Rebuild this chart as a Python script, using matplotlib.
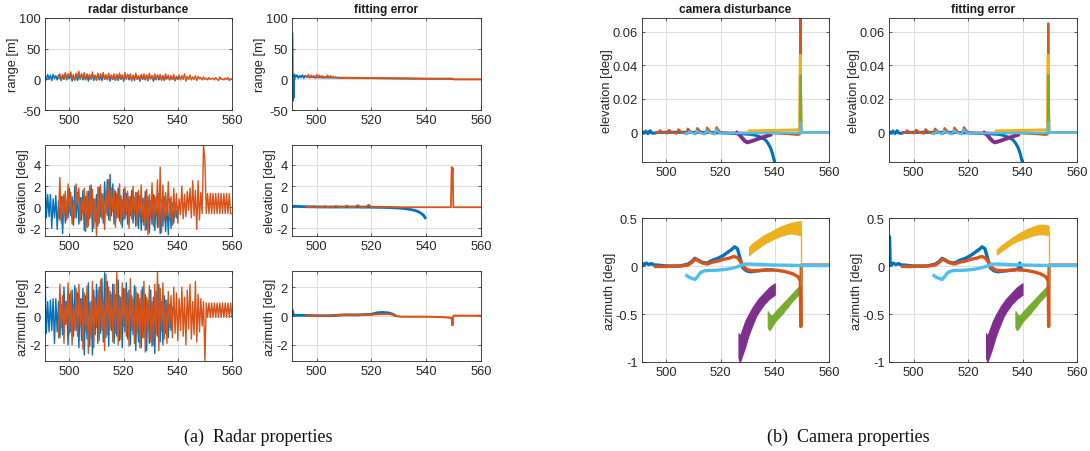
import numpy as np
import matplotlib
matplotlib.use("Agg")
import matplotlib.pyplot as plt

plt.rcParams["font.family"] = ["Liberation Sans", "DejaVu Sans"]
plt.rcParams["axes.unicode_minus"] = False

# MATLAB default line colours
C_BLUE = "#0072BD"
C_ORANGE = "#D95319"
C_YELLOW = "#EDB120"
C_PURPLE = "#7E2F8E"
C_GREEN = "#77AC30"
C_LBLUE = "#4DBEEE"

# ---------------------------------------------------------------- radar data
# sampled every 0.5 s, blue track starts at 491 s, orange track at 496 s
RADAR_STEP = 0.5
RADAR_T0_BLUE = 491.0
RADAR_T0_ORANGE = 496.0

range_dist_blue = [6, -1, 8, 0, 7, -2, 8, 1, 6, -1, 7,
                   2, -2, 6, 0, 9, -1, 5, 1, 8, -3, 4, 0, 7, -2, 6, 1, 9, -1, 5, 0,
                   8, -3, 4, 1, 7, -2, 6, 0, 9, -1, 5, -2, 8, 0, 4, 1, 7, -3, 6, 0,
                   5, -1, 8, -2, 6, 0, 7, -3, 4, 1, 8, -1, 5, 0, 6, -2, 7, 1, 5, -3,
                   6, 0, 4, -1, 7, -2, 5, 1, 6, -3, 4, 0, 7, -1, 5, 0, 6, -2, 3, 1,
                   4, -1, 5, 0, 3, -2, 4, 0, 2]
range_dist_orange = [2, 9, -1, 8, 3, 11, 0, 9, 4, 12, 1, 8, -2, 10, 3, 13, 0, 7, 2, 11,
                     -1, 9, 3, 8, 0, 12, 2, 7, -2, 10, 1, 9, 3, 11, 0, 8, -1, 10, 2, 7,
                     0, 9, -2, 8, 1, 10, 3, 7, -1, 11, 0, 8, 2, 9, -3, 7, 1, 10, 0, 6,
                     -1, 8, 2, 9, 0, 7, -2, 10, 1, 6, 0, 9, -1, 7, 2, 8, -2, 6, 0, 9,
                     1, 7, -1, 6, 0, 8, -2, 5, 1, 7, -1, 6, 0, 9, -3, 5, 0, 7, -1, 4,
                     0, 6, -2, 5, 1, 3, -1, 4, 0, 2, -1, 3, 0, 1, 2, -1, 3, 0, -2, 4,
                     0, 1, -1, 2, 0, 3, -2, 1, 0]

elev_dist_blue = [3.0, -1.0, 1.2, -0.9, 1.2, -2.0, 0.8, -1.0, 1.1, -2.1, 0.6,
                  -1.2, 1.0, -2.5, 1.2, -1.5, 0.5, -1.0, 1.8, -0.8, 1.0, -1.7, 2.0,
                  -1.0, 1.4, -1.6, 0.9, -1.2, 1.6, -2.2, 1.0, -1.9, 1.5, -1.1, 2.1,
                  -2.3, 0.8, -1.4, 1.2, -1.8, 1.9, -0.9, 1.3, -1.5, 2.4, -0.6, 2.6,
                  -1.2, 3.1, -0.8, 2.2, -1.6, 1.5, -1.0, 1.8, -1.3, 1.1, -1.9, 1.7,
                  -1.1, 1.3, -1.6, 1.0, -0.8, 1.6, -1.5, 0.9, -1.8, 1.4, -2.0, 1.1,
                  -2.2, 0.8, -1.7, 1.5, -2.1, 1.0, -2.4, 0.6, -1.6, 1.2, -2.2, 0.9,
                  -1.9, 1.3, -2.5, 0.7, -1.8, 1.0, -2.3, 0.5, -2.6, 0.8, -2.0, 0.4,
                  -1.5, 0.3, -1.0, 0.0]
elev_dist_orange = [-1.0, 2.8, -1.5, 1.0, -0.8, 1.5, -1.2, 2.2, -0.5, 1.4,
                    -1.6, 0.6, -1.0, 2.2, 0.2, 1.8, -1.3, 0.9, -0.6, 1.8,
                    -2.3, 1.5, -1.8, 2.0, -0.9, 1.7, -2.0, 0.8, -2.7, 1.9,
                    -1.5, 2.1, -1.1, 1.2, -2.1, 1.6, -0.8, 2.6, -1.3, 1.8,
                    -0.4, 1.7, -1.9, 1.3, -1.0, 2.2, -1.6, 0.7, -1.2, 1.9,
                    -0.7, 1.5, -2.0, 1.0, -1.1, 2.0, -0.6, 1.4, -1.7, 1.6,
                    -0.9, 2.1, -1.4, 0.9, -2.2, 1.7, -2.6, 1.2, -1.0, 2.3,
                    -1.8, 1.1, -0.7, 2.6, -1.9, 3.8, -2.4, 2.1, -1.3, 1.4,
                    -0.8, 2.4, -1.2, 1.0, -1.7, 1.8, -0.9, 1.3, -1.5, 0.8,
                    -0.7, 2.0, -1.1, 1.2, -0.9, 1.5, -0.3, 1.8, -1.0, 2.5,
                    -0.8, 1.6, -2.1, 2.5, -1.2, 1.4, -0.6, 5.9, 4.5, -0.6,
                    1.3, -0.6, 1.3, -0.6, 1.3, -0.6, 1.3, -0.6, 1.3, -0.6,
                    1.3, -0.6, 1.3, -0.6, 1.3, -0.6, 1.3, -0.6, -0.6]

azim_dist_blue = [2.9, -1.2, 1.0, -1.1, 1.1, -1.0, 1.2, -1.9, 1.2, -1.1, 1.0,
                  -1.5, 0.8, -1.3, 2.0, -0.6, 1.0, -2.0, 1.5, -1.1,
                  1.8, -1.4, 2.1, -1.0, 1.6, -2.2, 1.2, -1.7, 1.9, -2.7,
                  1.4, -1.6, 2.3, -2.1, 1.0, -2.7, 1.8, -1.3, 2.2, -1.9,
                  2.0, -1.2, 2.6, -1.8, 3.0, -1.5, 2.4, -2.1, 1.7, -1.0,
                  2.2, -1.9, 1.5, -1.4, 2.5, -1.7, 1.3, -2.2, 1.9, -1.1,
                  2.3, -1.6, 1.8, -2.0, 1.4, -1.3, 2.1, -2.4, 1.6, -1.8,
                  1.2, -2.2, 2.0, -1.5, 1.5, -2.4, 1.1, -1.9, 1.8, -2.1,
                  1.3, -2.6, 1.7, -1.4, 2.2, -1.8, 1.0, -2.0, 1.4, -1.2,
                  1.1, -1.5, 0.8, -1.0, 0.6]
azim_dist_orange = [-1.5, 2.2, -0.8, 1.4, -1.9, 1.0, -0.5, 2.3, -1.2, 1.7,
                    -2.0, 0.8, -1.0, 1.9, -1.4, 2.2, -0.6, 1.2, -2.3, 1.6,
                    -1.1, 2.1, -2.6, 0.9, -1.5, 2.4, -2.2, 1.3, -0.8, 1.8,
                    -1.7, 2.5, -1.0, 1.1, -2.4, 2.9, -1.3, 2.0, -0.9, 1.5,
                    -1.8, 2.2, -1.2, 3.1, -2.0, 1.4, -1.6, 2.3, -0.7, 1.9,
                    -1.4, 1.6, -2.1, 2.6, -1.0, 1.2, -1.9, 2.0, -1.2, 1.5,
                    -2.2, 1.8, -1.5, 2.4, -2.5, 1.3, -0.9, 2.1, -1.8, 1.0,
                    -2.0, 2.2, -1.3, 3.1, -2.4, 1.9, -1.0, 2.3, -1.6, 1.1,
                    -1.9, 1.7, -0.8, 1.4, -1.5, 2.0, -1.2, 1.6, -1.7, 1.2,
                    -1.0, 2.0, -1.4, 1.3, -2.0, 1.8, -0.9, 2.2, -1.6, 1.0,
                    -1.3, 2.4, -1.8, 1.5, -1.1, 1.2, -0.7, 1.0, -3.1, 0.9,
                    -0.1, 0.9, -0.1, 0.9, -0.1, 0.9, -0.1, 0.9, -0.1, 0.9,
                    -0.1, 0.9, -0.1, 0.9, -0.1, 0.9, -0.1, 0.9, -0.1]

# radar fitting errors
range_fit_blue_t = [491.2, 491.35, 491.5, 491.65, 491.9, 492.3, 492.8, 493.3, 493.8,
                    494.3, 494.8, 495.3, 495.8, 496.3, 500, 510, 520, 530, 540, 550]
range_fit_blue = [75, -35, 5, -30, 8, 3, 7, 2, 6, 3, 7, 2, 6, 4, 3, 2.5, 2, 1.5, 1, 0.5]
range_fit_orange_noise = [6, 3, 8, 2, 7, 4, 6, 2, 8, 3, 7, 3, 6, 2, 5, 3, 7, 2, 6, 3, 5, 2, 4]
range_fit_orange_t = [508, 510, 520, 530, 540, 549.5, 550, 560]
range_fit_orange = [2.5, 2.5, 2.0, 1.5, 1.0, 1.0, 0.0, 0.0]

elev_fit_blue_t = [491, 495, 500, 505, 510, 515, 520, 525, 528, 530, 532, 534,
                   535.5, 537, 538, 539, 539.6]
elev_fit_blue = [0.1, 0.05, 0.03, 0.02, 0.02, 0.02, 0.0, -0.02, -0.05, -0.08, -0.12,
                 -0.2, -0.28, -0.4, -0.55, -0.75, -1.0]
elev_fit_orange_t = [496, 498, 499, 500, 502, 503, 504, 506, 507, 508, 510, 511, 512,
                     514, 515, 516, 518, 519, 520, 525, 530, 535, 540, 545, 549,
                     549.3, 549.5, 549.7, 549.9, 552, 560]
elev_fit_orange = [0.05, 0.0, 0.1, 0.0, 0.0, 0.1, 0.0, 0.0, 0.12, 0.0, 0.0, 0.15, 0.0,
                   0.0, 0.2, 0.0, 0.0, 0.25, 0.0, 0.0, 0.0, 0.0, 0.0, 0.0, 0.0,
                   3.8, 3.4, 3.7, 0.0, 0.0, 0.0]

azim_fit_blue_t = [491.2, 491.5, 492, 495, 500, 505, 510, 515, 520, 522, 524, 526,
                   527.5, 528.5]
azim_fit_blue = [0.35, 0.08, 0.05, 0.05, 0.02, 0.02, 0.08, 0.08, 0.12, 0.22, 0.25,
                 0.22, 0.15, 0.05]
azim_fit_orange_t = [496, 500, 505, 510, 515, 520, 523, 526, 528, 529, 531, 535, 540,
                     545, 548, 549.3, 549.6, 549.8, 550, 555, 560]
azim_fit_orange = [0.02, 0.0, 0.02, 0.08, 0.06, 0.1, 0.13, 0.14, 0.1, 0.0, -0.05,
                   -0.05, -0.05, -0.07, -0.1, -0.15, -0.65, -0.1, 0.02, 0.02, 0.02]

# ---------------------------------------------------------------- camera data
cam_el_blue_t = [491, 491.8, 492.4, 493.2, 494.0, 494.6, 495.5, 496.5, 498, 500, 505,
                 510, 515, 520, 524, 528, 531, 533, 535, 536.5, 537.5, 538.5, 539.2,
                 539.8, 540.2]
cam_el_blue = [0.0005, -0.0006, 0.0008, -0.0008, 0.0010, -0.0004, -0.0006, -0.0001,
               0.0, 0.0, 0.0, 0.0, 0.0, -0.0003, -0.0006, -0.0009, -0.0012, -0.0018,
               -0.0030, -0.0045, -0.0065, -0.0095, -0.0130, -0.0170, -0.0190]
cam_el_orange_t = [496, 497.0, 497.6, 498.5, 500.3, 500.9, 502.0, 503.8, 504.4, 505.5,
                   507.3, 507.9, 509.0, 510.8, 511.4, 512.5, 514.4, 515.0, 516.1,
                   517.9, 518.5, 519.6, 520.5, 525, 530, 535, 540, 545, 548.5, 549.2,
                   549.45, 549.6, 549.8, 552, 556, 560]
cam_el_orange = [0.0, -0.0003, 0.0012, 0.0, -0.0006, 0.0015, 0.0001, -0.0008, 0.0018,
                 0.0002, -0.0010, 0.0022, 0.0003, -0.0010, 0.0025, 0.0004, -0.0010,
                 0.0028, 0.0005, -0.0010, 0.0030, 0.0005, -0.0003, -0.0002, -0.0003,
                 -0.0004, -0.0006, -0.0010, -0.0015, -0.0012, 0.068, 0.030, 0.0, 0.0,
                 0.0, 0.0]
cam_el_orange_fit = [0.0, -0.0003, 0.0012, 0.0, -0.0006, 0.0015, 0.0001, -0.0008, 0.0018,
                     0.0002, -0.0010, 0.0022, 0.0003, -0.0010, 0.0025, 0.0004, -0.0010,
                     0.0028, 0.0005, -0.0010, 0.0030, 0.0005, -0.0003, -0.0002, -0.0003,
                     -0.0004, -0.0006, -0.0010, -0.0015, -0.0012, 0.065, 0.030, 0.0, 0.0,
                     0.0, 0.0]
cam_el_yellow_t = [530.5, 535, 540, 545, 549.2, 549.45, 549.6]
cam_el_yellow = [0.0008, 0.0010, 0.0011, 0.0013, 0.0015, 0.046, 0.0]
cam_el_purple_t = [526.0, 527.0, 528.0, 529.0, 529.8, 531, 532.5, 534, 535.5, 537, 538.3]
cam_el_purple = [-0.0003, -0.0015, -0.0035, -0.0052, -0.0060, -0.0055, -0.0047,
                 -0.0038, -0.0030, -0.0022, -0.0015]
cam_el_green_t = [538, 542, 546, 549.3, 549.55, 549.75, 552, 556, 560]
cam_el_green = [-0.0004, -0.0004, -0.0005, -0.0005, 0.034, 0.0, 0.0, 0.0, 0.0]
cam_el_lblue_t = [507.0, 507.6, 508.3, 510.5, 511.2, 512.0, 514.1, 514.8, 515.6, 517.7,
                  518.4, 519.3, 520.5, 530, 540, 549.2, 549.5, 549.7, 552, 560]
cam_el_lblue = [-0.0005, -0.0012, 0.0005, -0.0012, 0.0010, -0.0002, -0.0012, 0.0015,
                -0.0001, -0.0012, 0.0018, -0.0001, -0.0006, -0.0005, -0.0004, -0.0003,
                0.006, 0.0, 0.0, 0.0]

cam_az_blue_t = [491, 491.7, 492.5, 493.5, 494.5, 495.5, 496.5, 500, 505, 508, 509.5,
                 510.5, 511.5, 513, 515, 517, 519, 521, 522.5, 524, 525.2, 526.2,
                 527.2, 528.2, 529.5, 531, 534, 537, 539]
cam_az_blue = [0.03, 0.01, 0.03, 0.015, 0.025, 0.01, 0.01, 0.0, 0.0, 0.02, 0.05, 0.08,
               0.065, 0.04, 0.03, 0.06, 0.08, 0.11, 0.14, 0.17, 0.2, 0.18, 0.08, -0.02,
               -0.05, -0.06, -0.05, -0.04, -0.04]
cam_az_blue_fit_t = [491.2, 491.4, 491.7, 492.5, 493.5, 494.5, 495.5, 496.5, 500, 505,
                     508, 509.5, 510.5, 511.5, 513, 515, 517, 519, 521, 522.5, 524,
                     525.2, 526.2, 527.2, 528.2, 529.5, 531, 534, 537, 538.5, 539, 539.5]
cam_az_blue_fit = [0.3, 0.03, 0.01, 0.03, 0.015, 0.025, 0.01, 0.01, 0.0, 0.0, 0.02,
                   0.05, 0.08, 0.065, 0.04, 0.03, 0.06, 0.08, 0.11, 0.14, 0.17, 0.2,
                   0.18, 0.08, -0.02, -0.05, -0.06, -0.05, -0.04, -0.03, 0.03, -0.03]
cam_az_orange_t = [496, 500, 505, 508, 509.5, 510.5, 511.5, 513, 515, 517, 519, 521,
                   523, 525, 526.3, 527.5, 528.5, 530, 532, 535, 538, 541, 544, 546.5,
                   548.5, 549.4, 549.6, 549.75, 552, 556, 560]
cam_az_orange = [-0.005, -0.005, 0.0, 0.01, 0.04, 0.07, 0.06, 0.035, 0.02, 0.04, 0.05,
                 0.07, 0.08, 0.1, 0.085, 0.04, -0.01, -0.04, -0.05, -0.045, -0.04,
                 -0.045, -0.06, -0.08, -0.11, -0.15, -0.63, 0.01, 0.01, 0.01, 0.01]
cam_az_lblue_t = [507.5, 508.5, 509.5, 510.5, 511.5, 512.5, 514, 516, 518, 520, 522,
                  524, 526, 527.5, 529, 531, 535, 540, 545, 550, 555, 560]
cam_az_lblue = [-0.1, -0.12, -0.13, -0.14, -0.11, -0.07, -0.05, -0.045, -0.045, -0.04,
                -0.035, -0.025, -0.01, 0.005, 0.02, 0.02, 0.015, 0.01, 0.008, 0.005,
                0.005, 0.005]
cam_az_yellow_t = [530.5, 532, 534, 536, 538, 540, 542, 544, 546, 548, 549.6]
cam_az_yellow_lo = [0.11, 0.15, 0.19, 0.23, 0.26, 0.29, 0.31, 0.33, 0.34, 0.33, 0.32]
cam_az_yellow_hi = [0.20, 0.24, 0.28, 0.32, 0.35, 0.38, 0.41, 0.43, 0.45, 0.46, 0.47]
cam_az_yellow_fit_lo = [0.12, 0.15, 0.19, 0.23, 0.26, 0.28, 0.30, 0.32, 0.33, 0.33, 0.32]
cam_az_yellow_fit_hi = [0.17, 0.21, 0.25, 0.29, 0.33, 0.36, 0.39, 0.41, 0.43, 0.43, 0.42]
cam_az_purple_t = [526.6, 527.1, 528, 529, 530, 531, 532, 533, 534, 535, 536, 537, 538,
                   539, 540]
cam_az_purple_lo = [-0.96, -1.0, -0.93, -0.85, -0.75, -0.67, -0.60, -0.53, -0.48, -0.44,
                    -0.40, -0.37, -0.34, -0.32, -0.30]
cam_az_purple_hi = [-0.70, -0.73, -0.66, -0.58, -0.52, -0.47, -0.42, -0.38, -0.34,
                    -0.31, -0.28, -0.25, -0.22, -0.20, -0.18]
cam_az_green_t = [537.4, 538, 539, 540, 541, 542, 543, 544, 545, 546, 547, 548, 549,
                  549.6]
cam_az_green_lo = [-0.64, -0.67, -0.63, -0.58, -0.55, -0.52, -0.49, -0.45, -0.42, -0.38,
                   -0.35, -0.32, -0.29, -0.27]
cam_az_green_hi = [-0.47, -0.50, -0.52, -0.48, -0.45, -0.42, -0.39, -0.36, -0.33, -0.30,
                   -0.27, -0.24, -0.21, -0.19]
cam_az_drop_t = [549.7, 549.7]
cam_az_yellow_drop = [0.35, 0.0]
cam_az_green_drop = [-0.2, 0.0]

x_ticks = [500, 520, 540, 560]
titles = ["radar disturbance", "fitting error", "camera disturbance", "fitting error"]
captions = ["(a)  Radar properties", "(b)  Camera properties"]

# ---------------------------------------------------------------- layout helpers
W, H = 1090, 452
fig = plt.figure(figsize=(W / 100, H / 100), dpi=100)


def add_axes(left, right, top, bottom):
    return fig.add_axes([left / W, 1 - bottom / H, (right - left) / W, (bottom - top) / H])


def style(ax, ylim, yticks, ylabel, yticklabels=None, title=None):
    ax.set_xlim(491, 560)
    ax.set_xticks(x_ticks)
    ax.set_ylim(*ylim)
    ax.set_yticks(yticks)
    if yticklabels is not None:
        ax.set_yticklabels(yticklabels)
    ax.grid(True, color="#dedede", linewidth=0.8)
    ax.set_axisbelow(True)
    ax.tick_params(direction="in", length=2.5, width=0.5, top=True, right=True,
                   labelsize=9.3, colors="#262626", pad=3)
    for s in ax.spines.values():
        s.set_color("#262626")
        s.set_linewidth(0.6)
    ax.set_ylabel(ylabel, fontsize=9.3, color="#262626", labelpad=0)
    if title:
        ax.set_title(title, fontsize=8.6, fontweight="bold", color="#1a1a1a", pad=4)


def times(t0, vals):
    return t0 + RADAR_STEP * np.arange(len(vals))


LW = 1.0
RANGE_LIM, RANGE_TICKS = (-50, 100), [-50, 0, 50, 100]
ELEV_LIM, ELEV_TICKS = (-2.72, 5.88), [-2, 0, 2, 4]
AZIM_LIM, AZIM_TICKS = (-3.12, 3.12), [-2, 0, 2]

# ---------------------------------------------------------------- radar disturbance
ax = add_axes(45, 232, 19, 111)
ax.plot(times(RADAR_T0_BLUE, range_dist_blue), range_dist_blue, color=C_BLUE, lw=LW)
ax.plot(times(RADAR_T0_ORANGE, range_dist_orange), range_dist_orange, color=C_ORANGE, lw=LW)
style(ax, RANGE_LIM, RANGE_TICKS, "range [m]", title=titles[0])

ax = add_axes(45, 232, 146, 237)
ax.plot(times(RADAR_T0_BLUE, elev_dist_blue), elev_dist_blue, color=C_BLUE, lw=LW)
ax.plot(times(RADAR_T0_ORANGE, elev_dist_orange), elev_dist_orange, color=C_ORANGE, lw=LW)
style(ax, ELEV_LIM, ELEV_TICKS, "elevation [deg]")

ax = add_axes(45, 232, 272, 362)
ax.plot(times(RADAR_T0_BLUE, azim_dist_blue), azim_dist_blue, color=C_BLUE, lw=LW)
ax.plot(times(RADAR_T0_ORANGE, azim_dist_orange), azim_dist_orange, color=C_ORANGE, lw=LW)
style(ax, AZIM_LIM, AZIM_TICKS, "azimuth [deg]")

# ---------------------------------------------------------------- radar fitting error
ax = add_axes(292, 481, 19, 111)
ax.plot(range_fit_blue_t, range_fit_blue, color=C_BLUE, lw=1.2)
ax.plot(times(RADAR_T0_ORANGE, range_fit_orange_noise), range_fit_orange_noise,
        color=C_ORANGE, lw=LW)
ax.plot(range_fit_orange_t, range_fit_orange, color=C_ORANGE, lw=1.5)
style(ax, RANGE_LIM, RANGE_TICKS, "range [m]", title=titles[1])

ax = add_axes(292, 481, 146, 237)
ax.plot(elev_fit_blue_t, elev_fit_blue, color=C_BLUE, lw=2.0)
ax.plot(elev_fit_orange_t, elev_fit_orange, color=C_ORANGE, lw=1.3)
style(ax, ELEV_LIM, ELEV_TICKS, "elevation [deg]")

ax = add_axes(292, 481, 272, 362)
ax.plot(azim_fit_blue_t, azim_fit_blue, color=C_BLUE, lw=2.0)
ax.plot(azim_fit_orange_t, azim_fit_orange, color=C_ORANGE, lw=1.5)
style(ax, AZIM_LIM, AZIM_TICKS, "azimuth [deg]")

# ---------------------------------------------------------------- camera panels
CAM_EL_LIM = (-0.0177, 0.0682)
CAM_EL_TICKS = [0, 0.02, 0.04, 0.06]
CAM_EL_LABELS = ["0", "0.02", "0.04", "0.06"]
CAM_AZ_LIM = (-1, 0.5)
CAM_AZ_TICKS = [-1, -0.5, 0, 0.5]
CAM_AZ_LABELS = ["-1", "-0.5", "0", "0.5"]

for col, (left, right) in enumerate([(642, 829), (889, 1077)]):
    fit = col == 1
    ax = add_axes(left, right, 19, 163)
    ax.plot(cam_el_blue_t, cam_el_blue, color=C_BLUE, lw=2.2)
    ax.plot(cam_el_orange_t, cam_el_orange_fit if fit else cam_el_orange,
            color=C_ORANGE, lw=1.6)
    ax.plot(cam_el_yellow_t, cam_el_yellow, color=C_YELLOW, lw=2.2)
    ax.plot(cam_el_purple_t, cam_el_purple, color=C_PURPLE, lw=2.8)
    ax.plot(cam_el_green_t, cam_el_green, color=C_GREEN, lw=1.6)
    ax.plot(cam_el_lblue_t, cam_el_lblue, color=C_LBLUE, lw=1.6)
    style(ax, CAM_EL_LIM, CAM_EL_TICKS, "elevation [deg]", CAM_EL_LABELS,
          title=titles[2 + col])

    ax = add_axes(left, right, 219, 363)
    if fit:
        ax.plot(cam_az_blue_fit_t, cam_az_blue_fit, color=C_BLUE, lw=2.4)
    else:
        ax.plot(cam_az_blue_t, cam_az_blue, color=C_BLUE, lw=2.4)
    ax.plot(cam_az_orange_t, cam_az_orange, color=C_ORANGE, lw=2.4)
    ylo = cam_az_yellow_fit_lo if fit else cam_az_yellow_lo
    yhi = cam_az_yellow_fit_hi if fit else cam_az_yellow_hi
    ax.fill_between(cam_az_yellow_t, ylo, yhi, color=C_YELLOW, lw=0.8, edgecolor=C_YELLOW)
    ax.plot(cam_az_drop_t, cam_az_yellow_drop, color=C_YELLOW, lw=1.0)
    ax.fill_between(cam_az_purple_t, cam_az_purple_lo, cam_az_purple_hi,
                    color=C_PURPLE, lw=0.8, edgecolor=C_PURPLE)
    ax.fill_between(cam_az_green_t, cam_az_green_lo, cam_az_green_hi,
                    color=C_GREEN, lw=0.8, edgecolor=C_GREEN)
    ax.plot(cam_az_drop_t, cam_az_green_drop, color=C_GREEN, lw=1.0)
    ax.plot(cam_az_lblue_t, cam_az_lblue, color=C_LBLUE, lw=2.4)
    style(ax, CAM_AZ_LIM, CAM_AZ_TICKS, "azimuth [deg]", CAM_AZ_LABELS)

# ---------------------------------------------------------------- sub-captions
fig.text(258 / W, 1 - 437 / H, captions[0], family=["Liberation Serif", "DejaVu Serif"],
         fontsize=13, ha="center", va="center", color="#111111")
fig.text(848 / W, 1 - 437 / H, captions[1], family=["Liberation Serif", "DejaVu Serif"],
         fontsize=13, ha="center", va="center", color="#111111")

fig.savefig("out.png", dpi=100, facecolor="white")
